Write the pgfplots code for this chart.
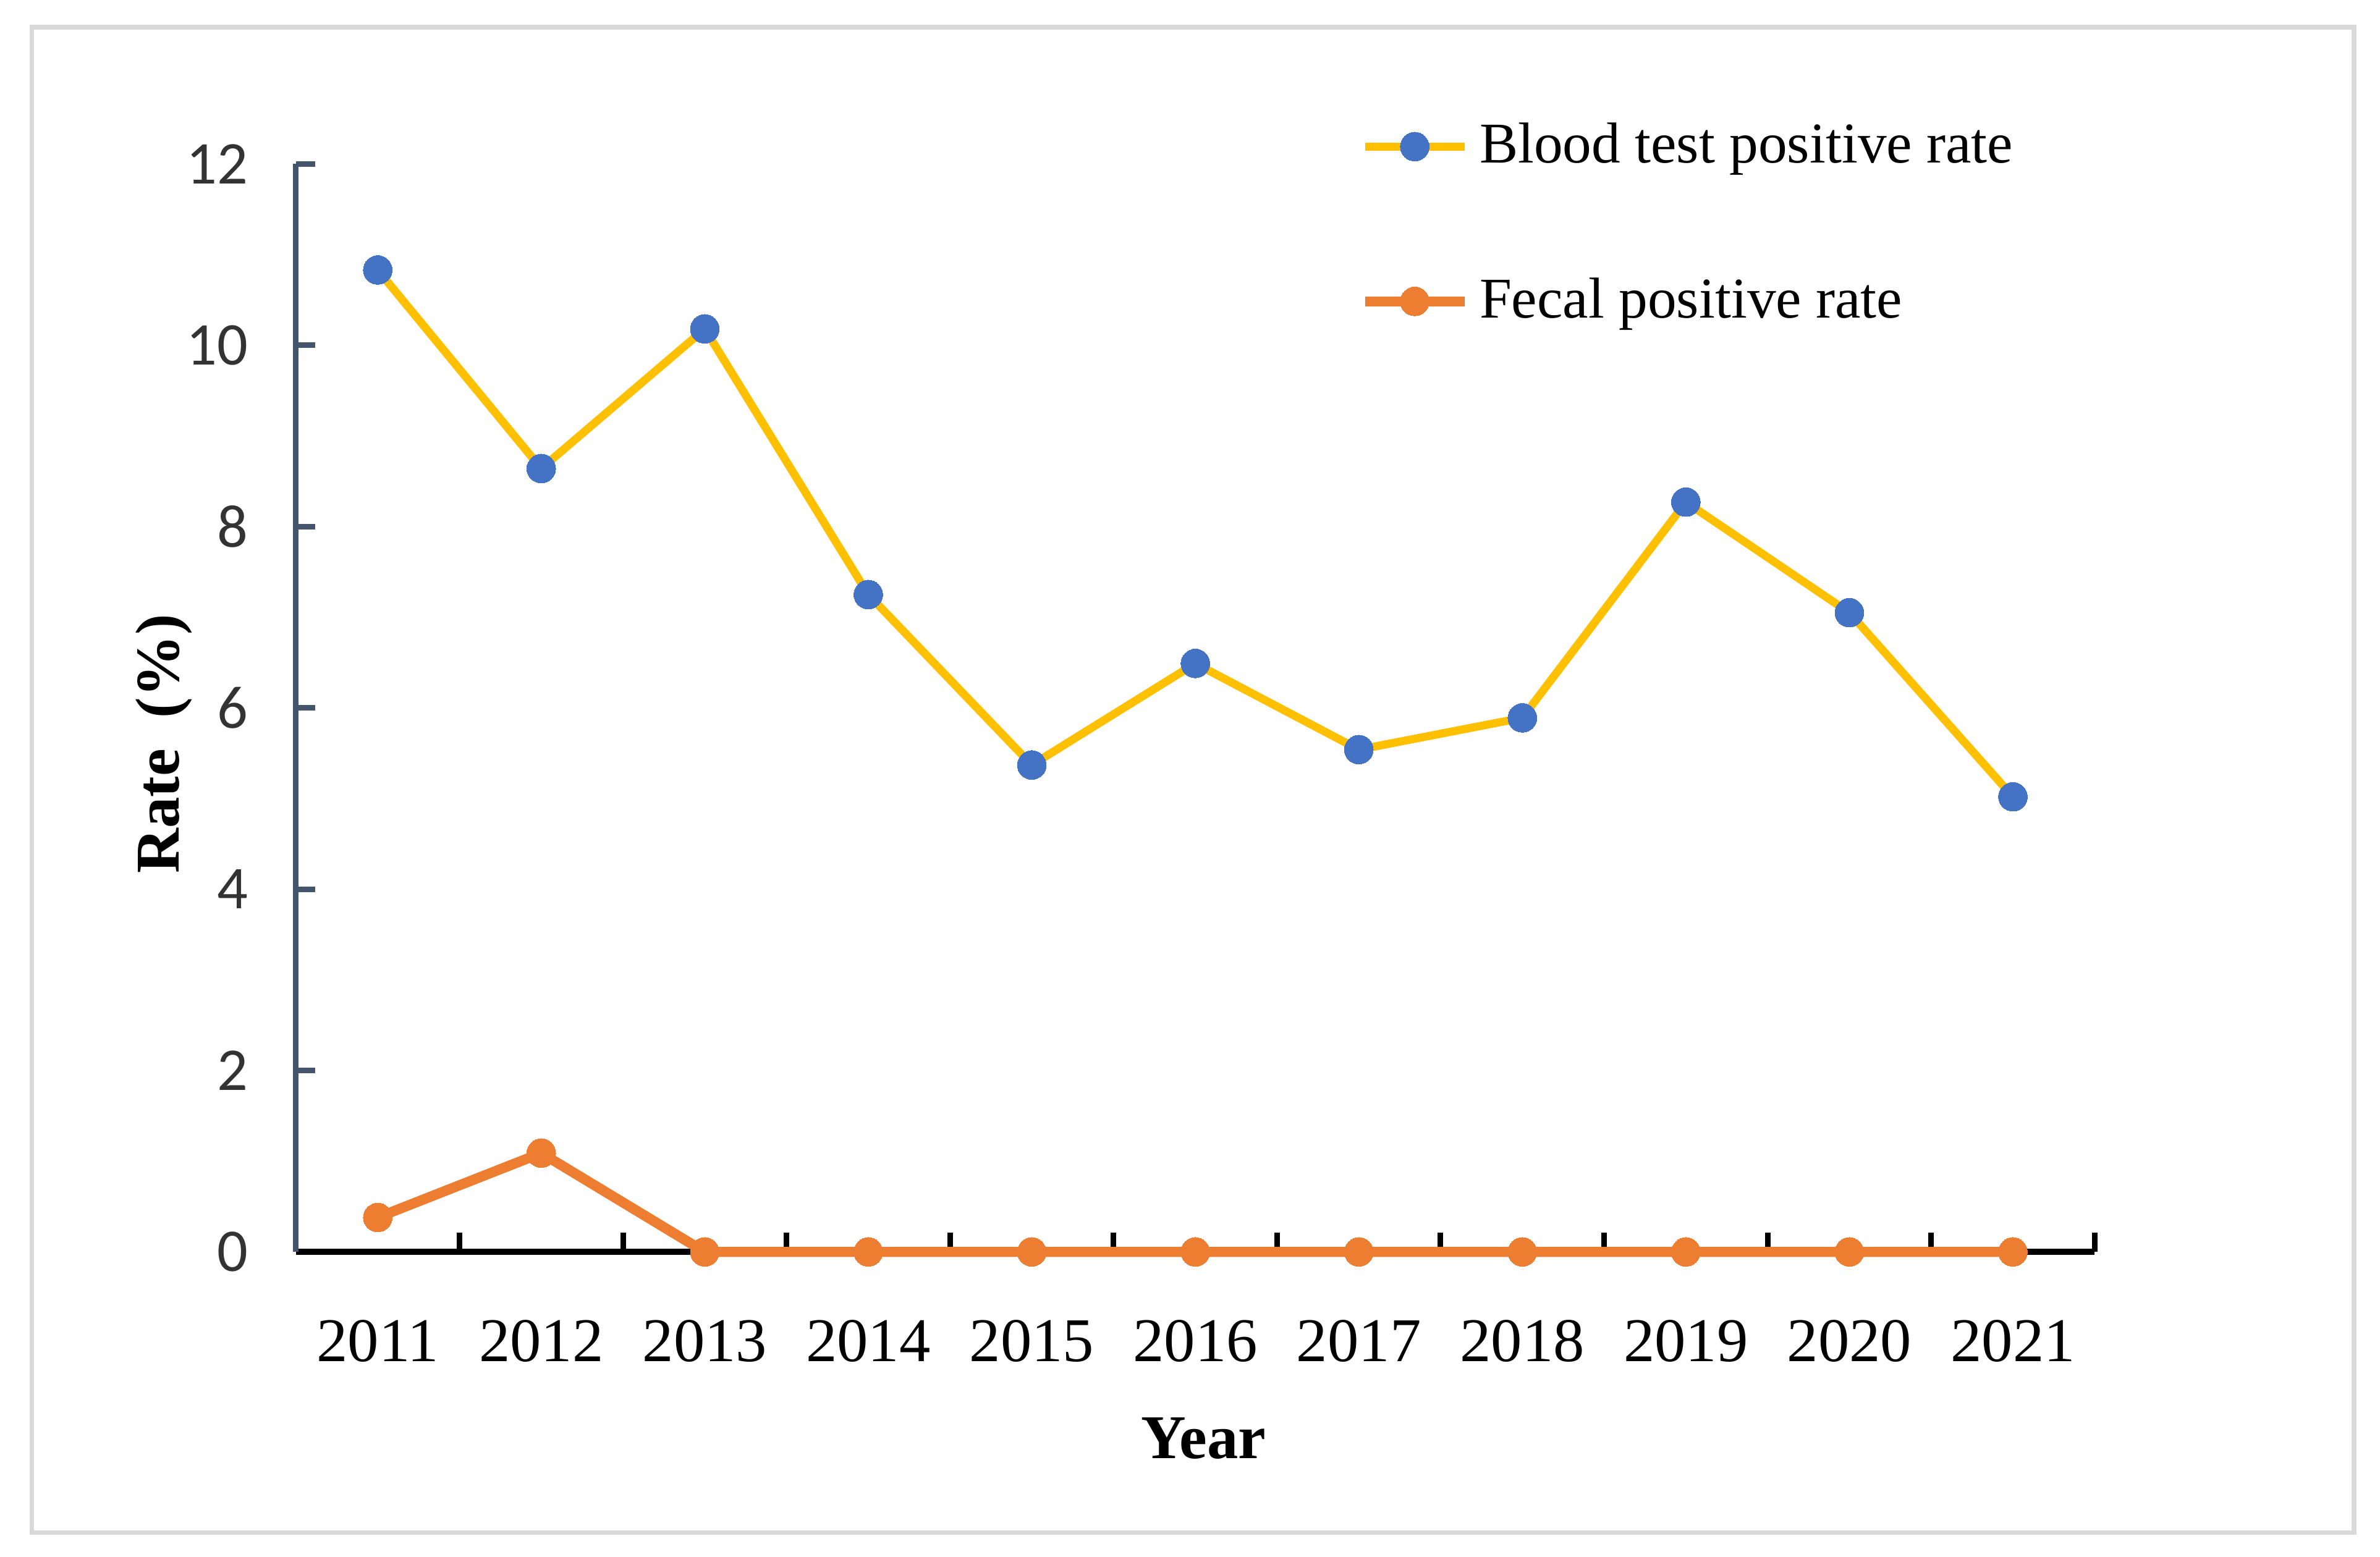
\documentclass[border=0pt]{standalone}
\usepackage{pgfplots}
\pgfplotsset{compat=1.18}
\usepackage{fontspec}
\setmainfont{Liberation Serif}
\newfontfamily\tickfont{Carlito}

\definecolor{bloodline}{HTML}{FFC000}
\definecolor{bloodmark}{HTML}{4472C4}
\definecolor{fecal}{HTML}{ED7D31}
\definecolor{yaxis}{HTML}{44546A}
\definecolor{ticktext}{HTML}{333333}
\definecolor{framegray}{HTML}{D9D9D9}

\begin{document}
\begin{tikzpicture}
% page size, in units of the reference (0.3pt per pixel of the small view)
\path[use as bounding box] (-58.5pt,-60.3pt) rectangle (411.9pt,247.5pt);
\draw[framegray, line width=0.95pt] (-52.2pt,-55.5pt) rectangle (406.8pt,242.1pt);

\begin{axis}[
    name=ax, at={(0,0)}, anchor=south west,
    scale only axis, width=355.5pt, height=215.1pt,
    xmin=-0.5, xmax=10.5, ymin=0, ymax=12,
    axis lines*=left,
    clip=false,
    x axis line style={black, line width=1.2pt},
    y axis line style={yaxis, line width=1.1pt},
    tick align=inside,
    xtick={0,...,10},
    xticklabels={2011,2012,2013,2014,2015,2016,2017,2018,2019,2020,2021},
    major x tick style={draw=none},
    minor xtick={-0.5,0.5,...,10.5},
    minor x tick style={black, line width=1.1pt},
    minor tick length=3.8pt,
    xticklabel style={font=\fontsize{12.3}{14}\selectfont, yshift=-10pt},
    ytick={0,2,...,12},
    yticklabels={0,2,4,6,8,10,12},
    y tick style={yaxis, line width=1.1pt},
    major tick length=3.8pt,
    yticklabel style={font=\tickfont\fontsize{12}{14}\selectfont, text=ticktext, xshift=-6pt},
    xlabel={\textbf{Year}},
    xlabel style={at={(axis description cs:0.5046,-0.1715)}, anchor=center, font=\fontsize{12.3}{14}\selectfont},
    ylabel={\textbf{Rate\ \ (\%)}},
    ylabel style={at={(axis description cs:-0.0734,0.467)}, anchor=center, font=\fontsize{12.3}{14}\selectfont},
    legend style={draw=none, fill=none, at={(axis description cs:0.591,1.048)}, anchor=north west,
        font=\fontsize{11.4}{13}\selectfont, row sep=17.2pt, inner sep=0pt},
    legend cell align=left,
    legend image code/.code={\draw[mark repeat=2,mark phase=2,#1] plot coordinates {(0cm,0cm) (0.345cm,0cm) (0.69cm,0cm)};},
]
\addplot[bloodline, line width=1.6pt, mark=*, mark size=2.85pt,
    mark options={fill=bloodmark, draw=bloodmark, line width=0pt}]
    coordinates {(0,10.83) (1,8.64) (2,10.18) (3,7.25) (4,5.37) (5,6.49)
                 (6,5.54) (7,5.89) (8,8.27) (9,7.05) (10,5.02)};
\addlegendentry{Blood test positive rate}
\addplot[fecal, line width=2.0pt, mark=*, mark size=2.85pt,
    mark options={fill=fecal, draw=fecal, line width=0pt}]
    coordinates {(0,0.38) (1,1.09) (2,0) (3,0) (4,0) (5,0)
                 (6,0) (7,0) (8,0) (9,0) (10,0)};
\addlegendentry{Fecal positive rate}
\end{axis}
\end{tikzpicture}
\end{document}
